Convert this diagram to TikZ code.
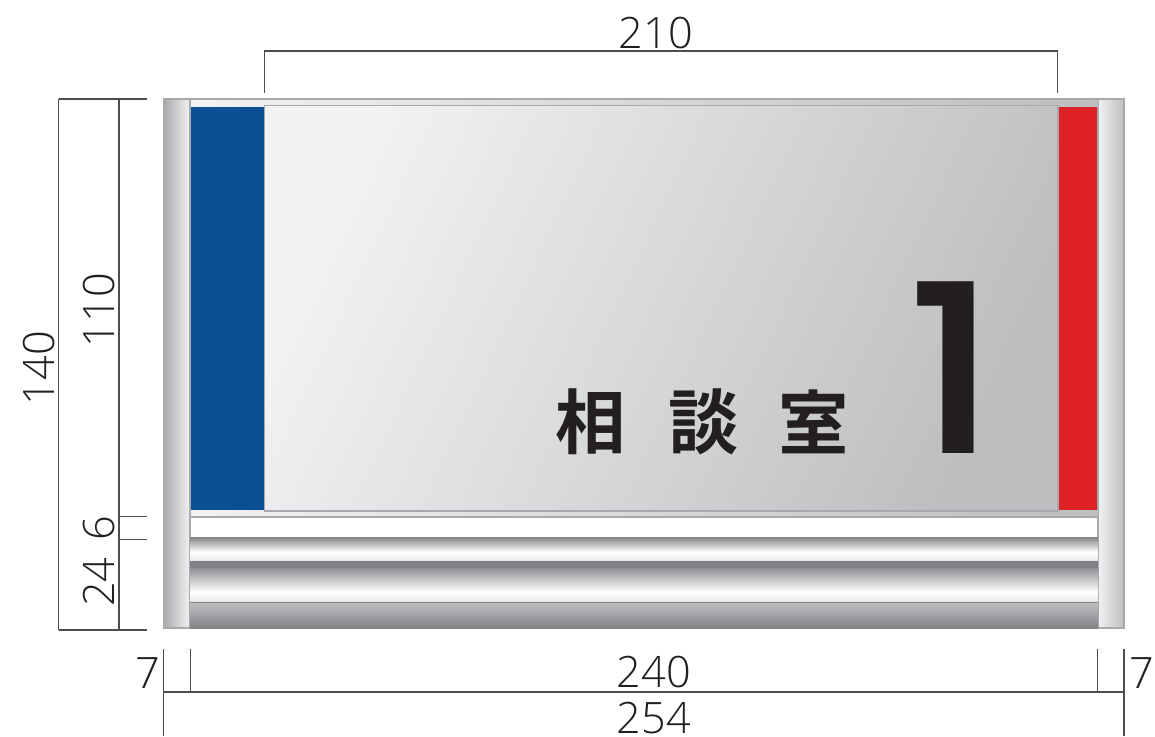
\documentclass[tikz,border=0pt]{standalone}
\usepackage{fontspec}
\setmainfont{Open Sans}[UprightFont=* Light]
\newfontfamily\cjkfont{Noto Sans CJK JP}[UprightFont=* Bold]
\newfontfamily\numfont{Poppins}[UprightFont=* Medium]
\definecolor{railgray}{HTML}{808285}
\definecolor{edgegray}{HTML}{A7A9AC}
\definecolor{steelpale}{HTML}{E6E7E8}
\definecolor{steellight}{HTML}{F1F2F3}
\definecolor{steeldark}{HTML}{BCBEC0}
\definecolor{signblue}{HTML}{0B5095}
\definecolor{signred}{HTML}{DD2127}
\definecolor{inkblack}{HTML}{231F20}
\tikzset{
  dimline/.style={line width=0.35pt, inkblack!80},
  dimtext/.style={font=\fontsize{12.3}{13}\selectfont, text=inkblack, inner sep=0pt},
  kanji/.style={font=\cjkfont\fontsize{20}{20}\selectfont, text=inkblack, inner sep=0pt},
}
\begin{document}
\begin{tikzpicture}[x=0.01cm, y=-0.01cm]
  \useasboundingbox (0,0) rectangle (1155,736);
  % end caps
  \draw[edgegray, line width=0.3pt, left color=edgegray, right color=steellight] (163.5,99) rectangle (190,628);
  \draw[edgegray, line width=0.3pt, left color=steellight, right color=steeldark] (1098,99) rectangle (1124,628);
  % frame bands
  \shade[left color=steellight, right color=steeldark] (190,99) rectangle (1098,107);
  \shade[left color=steellight, right color=steeldark] (190,510) rectangle (1098,517);
  \draw[edgegray, line width=0.3pt] (190,99)--(1098,99) (190,99)--(190,517)--(1098,517);
  % plate
  \draw[edgegray, line width=0.4pt, left color=steellight, right color=steeldark, shading angle=65] (264.5,105.5) rectangle (1058,511);
  \fill[signblue] (191,107) rectangle (264,510);
  \fill[signred] (1058.5,107) rectangle (1097,510);
  % rails
  \shade[top color=railgray, bottom color=white] (190,537) rectangle (1098,552);
  \shade[top color=white, bottom color=steelpale] (190,552) rectangle (1098,561);
  \fill[railgray] (190,561) rectangle (1098,568);
  \shade[top color=railgray!60!edgegray, middle color=steeldark, bottom color=white] (190,568) rectangle (1098,592);
  \shade[top color=white, bottom color=steelpale] (190,592) rectangle (1098,602);
  \shade[top color=steeldark, bottom color=railgray] (190,603) rectangle (1098,628);
  \draw[railgray, line width=0.3pt] (190,602.5)--(1098,602.5);
  % sign text
  \node[kanji] (soh) at (590.5,422) {相};
  \node[kanji] (dan) at (703.5,422) {談};
  \node[kanji] (shitsu) at (813.5,422) {室};
  \node[inner sep=0pt, text=inkblack, font=\numfont\fontsize{67}{67}\selectfont] (number) at (952.5,368) {\scalebox{1.15}[1]{1}};
  % dimension lines
  \draw[dimline] (264.5,93)--(264.5,51)--(1057.5,51)--(1057.5,93);
  \draw[dimline] (58.5,99)--(58.5,630);
  \draw[dimline] (119,99)--(119,630);
  \foreach \y in {99,630} \draw[dimline] (58.5,\y)--(147,\y);
  \foreach \y in {516.5,539.5} \draw[dimline] (119,\y)--(147,\y);
  \draw[dimline] (163.5,692)--(1124,692);
  \foreach \x in {163.5,1124} \draw[dimline] (\x,649)--(\x,736);
  \foreach \x in {190.5,1097.5} \draw[dimline] (\x,649)--(\x,692);
  % dimension labels
  \node[dimtext] (top) at (656,33) {210};
  \node[dimtext, rotate=90] (total) at (39,368) {140};
  \node[dimtext, rotate=90] (plate) at (99,310) {110};
  \node[dimtext, rotate=90] (gap) at (99,528) {6};
  \node[dimtext, rotate=90] (rail) at (99,582) {24};
  \node[dimtext] (capl) at (148,673) {7};
  \node[dimtext] (capr) at (1142,673) {7};
  \node[dimtext] (inner) at (654,672) {240};
  \node[dimtext] (outer) at (654,718) {254};
\end{tikzpicture}
\end{document}
